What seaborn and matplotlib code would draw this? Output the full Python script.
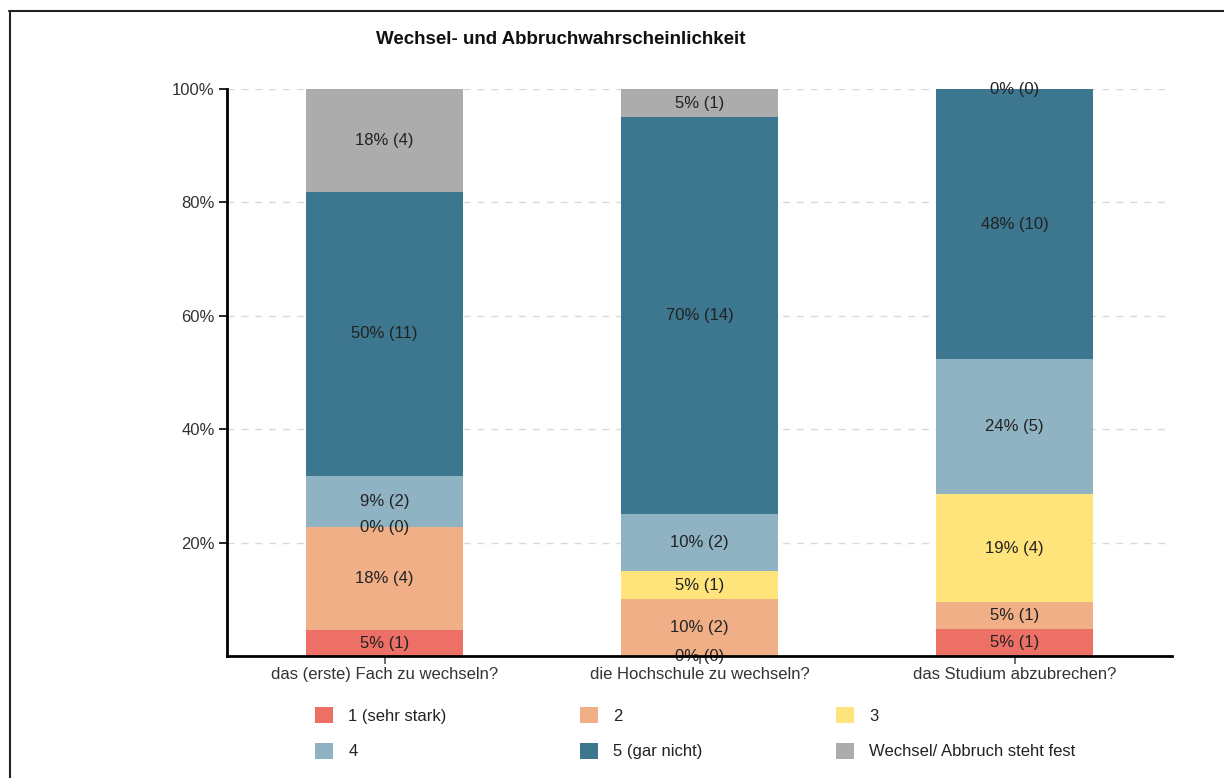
import numpy as np
import pandas as pd
import matplotlib
matplotlib.use("Agg")
import matplotlib.pyplot as plt
import seaborn as sns
from matplotlib.patches import Patch
from matplotlib.lines import Line2D

# data
categories = ["das (erste) Fach zu wechseln?", "die Hochschule zu wechseln?", "das Studium abzubrechen?"]
levels = ["1 (sehr stark)", "2", "3", "4", "5 (gar nicht)", "Wechsel/ Abbruch steht fest"]
n_1 = [1, 0, 1]
n_2 = [4, 2, 1]
n_3 = [0, 1, 4]
n_4 = [2, 2, 5]
n_5 = [11, 14, 10]
n_fest = [4, 1, 0]
colors = ["#EC7066", "#F0AF87", "#FEE47B", "#8FB3C3", "#3D768F", "#ACACAC"]

counts = np.array([n_1, n_2, n_3, n_4, n_5, n_fest], dtype=float)
totals = counts.sum(axis=0)
shares = counts / totals
cum = np.cumsum(shares, axis=0)

sns.set_theme(style="white")
plt.rcParams["font.family"] = ["Liberation Sans", "DejaVu Sans"]

fig = plt.figure(figsize=(12.24, 7.78), dpi=100)
ax = fig.add_axes([227 / 1224, 1 - 656 / 778, (1172 - 227) / 1224, (656 - 89) / 778])

# stacked bars: draw cumulative tops from highest layer down
for i in range(len(levels) - 1, -1, -1):
    df = pd.DataFrame({"cat": categories, "val": cum[i]})
    sns.barplot(data=df, x="cat", y="val", color=colors[i], width=0.5,
                saturation=1, linewidth=0, edgecolor="none", ax=ax, zorder=2)

# value labels in segment centres
for i in range(len(levels)):
    for j in range(len(categories)):
        mid = cum[i][j] - shares[i][j] / 2
        ax.text(j, mid, f"{round(shares[i][j] * 100 + 1e-9):.0f}% ({int(counts[i][j])})",
                ha="center", va="center", fontsize=12, color="#222222", zorder=5)

ax.set_xlim(-0.5, 2.5)
ax.set_ylim(0, 1)
ax.set_yticks([0.2, 0.4, 0.6, 0.8, 1.0])
ax.set_yticklabels(["20%", "40%", "60%", "80%", "100%"])
ax.set_xlabel("")
ax.set_ylabel("")
ax.yaxis.grid(True, linestyle=(0, (5, 5)), color="#d9d9d9", linewidth=1, zorder=0)
ax.set_axisbelow(True)
for s in ["top", "right"]:
    ax.spines[s].set_visible(False)
for s in ["left", "bottom"]:
    ax.spines[s].set_color("black")
    ax.spines[s].set_linewidth(2)
    ax.spines[s].set_zorder(6)
ax.tick_params(axis="y", left=True, length=6, width=1.2, color="black",
               labelsize=12, labelcolor="#333333", pad=3)
ax.tick_params(axis="x", bottom=True, length=6, width=1.2, color="#555555",
               labelsize=12, labelcolor="#333333", pad=2)

fig.text(376 / 1224, 1 - 40 / 778, "Wechsel- und Abbruchwahrscheinlichkeit",
         fontsize=13.5, fontweight="bold", ha="left", va="center", color="#111111")

# legend, filled row-wise
order = [0, 3, 1, 4, 2, 5]
handles = [Patch(facecolor=colors[k], edgecolor="none") for k in order]
labels = [levels[k] for k in order]
fig.legend(handles, labels, ncol=3, loc="upper left",
           bbox_to_anchor=(300 / 1224, 1 - 692 / 778), frameon=False,
           fontsize=12, handlelength=1.1, handleheight=1.1,
           handletextpad=0.9, labelspacing=1.13, columnspacing=8.0,
           labelcolor="#222222")

# frame lines of the picture (top and left only)
fig.add_artist(Line2D([9 / 1224, 1], [1 - 11 / 778, 1 - 11 / 778], color="#222222", linewidth=1.5))
fig.add_artist(Line2D([9.5 / 1224, 9.5 / 1224], [0, 1 - 11 / 778], color="#222222", linewidth=1.5))

fig.savefig("out.png", dpi=100)
